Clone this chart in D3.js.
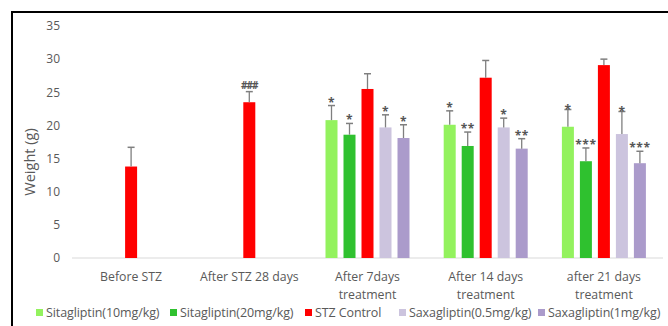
<!DOCTYPE html>
<html>
<head>
<meta charset="utf-8">
<script src="https://cdn.jsdelivr.net/npm/d3@7"></script>
<style>
  html, body { margin: 0; padding: 0; background: #fff; }
  svg { display: block; font-family: "Open Sans", Lato, sans-serif; }
</style>
</head>
<body>
<svg id="chart" width="668" height="326"></svg>
<script>
// Body weight over the study, per group
const categories = ["Before STZ", "After STZ 28 days", "After 7days treatment", "After 14 days treatment", "after 21 days treatment"];
const seriesNames = ["Sitagliptin(10mg/kg)", "Sitagliptin(20mg/kg)", "STZ Control", "Saxagliptin(0.5mg/kg)", "Saxagliptin(1mg/kg)"];
const seriesColors = ["#93f25e", "#2fc12f", "#ff0000", "#ccc4de", "#ab9bcb"];

const sita10  = [null, null, 20.8, 20.1, 19.8];
const sita20  = [null, null, 18.6, 16.9, 14.6];
const stzCtrl = [13.8, 23.5, 25.5, 27.2, 29.1];
const saxa05  = [null, null, 19.7, 19.7, 18.7];
const saxa1   = [null, null, 18.1, 16.5, 14.3];

const sita10Err  = [null, null, 2.2, 2.1, 2.6];
const sita20Err  = [null, null, 1.7, 2.1, 2.0];
const stzCtrlErr = [2.9, 1.6, 2.3, 2.6, 0.9];
const saxa05Err  = [null, null, 1.9, 1.4, 3.4];
const saxa1Err   = [null, null, 2.0, 1.5, 1.8];

const sita10Sig  = ["", "", "*", "*", "*"];
const sita20Sig  = ["", "", "*", "**", "***"];
const stzCtrlSig = ["", "###", "", "", ""];
const saxa05Sig  = ["", "", "*", "*", "*"];
const saxa1Sig   = ["", "", "*", "**", "***"];

const yTicks = [0, 5, 10, 15, 20, 25, 30, 35];

const seriesValues = [sita10, sita20, stzCtrl, saxa05, saxa1];
const seriesErrors = [sita10Err, sita20Err, stzCtrlErr, saxa05Err, saxa1Err];
const seriesSig = [sita10Sig, sita20Sig, stzCtrlSig, saxa05Sig, saxa1Sig];

const svg = d3.select("#chart");

// outer frame
svg.append("rect")
  .attr("x", 12).attr("y", 12)
  .attr("width", 720).attr("height", 400)
  .attr("fill", "none").attr("stroke", "#000").attr("stroke-width", 2);

const x0 = d3.scaleBand().domain(categories).range([72, 663]);
const x1 = d3.scaleBand().domain(seriesNames).range([0, 90]).paddingInner(1 / 3).paddingOuter(1 / 6);
const y = d3.scaleLinear().domain([0, 35]).range([258, 26]);

// y axis labels
const yAxis = svg.append("g")
  .attr("transform", "translate(60,0)")
  .call(d3.axisLeft(y).tickValues(yTicks).tickSize(0).tickPadding(0));
yAxis.select(".domain").remove();
yAxis.selectAll("text")
  .attr("fill", "#595959")
  .style("font-size", "12px")
  .style("font-family", "\"Open Sans\", Lato, sans-serif");

// baseline
svg.append("line")
  .attr("x1", 72).attr("x2", 663)
  .attr("y1", y(0)).attr("y2", y(0))
  .attr("stroke", "#d9d9d9").attr("stroke-width", 1);

// y axis title
svg.append("text")
  .attr("transform", `translate(35,${162}) rotate(-90)`)
  .attr("text-anchor", "middle")
  .attr("fill", "#595959")
  .style("font-size", "14.5px")
  .text("Weight (g)");

// category labels (wrap after the day count)
categories.forEach(c => {
  const m = c.match(/^(.*?)\s+(treatment)$/);
  const lines = m ? [m[1], m[2]] : [c];
  const t = svg.append("text")
    .attr("x", x0(c) + x0.bandwidth() / 2)
    .attr("y", 281)
    .attr("text-anchor", "middle")
    .attr("fill", "#595959")
    .style("font-size", "12.3px");
  lines.forEach((l, i) => {
    t.append("tspan")
      .attr("x", x0(c) + x0.bandwidth() / 2)
      .attr("dy", i === 0 ? 0 : 18)
      .text(l);
  });
});

// bars, error bars, significance marks
seriesNames.forEach((name, si) => {
  const recs = categories.map((c, ci) => ({
    cat: c,
    v: seriesValues[si][ci],
    e: seriesErrors[si][ci],
    s: seriesSig[si][ci]
  })).filter(d => d.v != null);

  const g = svg.append("g");
  const bx = d => x0(d.cat) + x0.bandwidth() / 2 - 45 + x1(name);
  const cx = d => bx(d) + x1.bandwidth() / 2;

  g.selectAll("rect").data(recs).join("rect")
    .attr("x", bx)
    .attr("y", d => y(d.v))
    .attr("width", x1.bandwidth())
    .attr("height", d => y(0) - y(d.v))
    .attr("fill", seriesColors[si]);

  g.selectAll("line.err").data(recs).join("line")
    .attr("class", "err")
    .attr("x1", cx).attr("x2", cx)
    .attr("y1", d => y(d.v)).attr("y2", d => y(d.v + d.e))
    .attr("stroke", "#7f7f7f").attr("stroke-width", 1.3);

  g.selectAll("line.cap").data(recs).join("line")
    .attr("class", "cap")
    .attr("x1", d => cx(d) - 3.5).attr("x2", d => cx(d) + 3.5)
    .attr("y1", d => y(d.v + d.e)).attr("y2", d => y(d.v + d.e))
    .attr("stroke", "#7f7f7f").attr("stroke-width", 1.5);

  g.selectAll("text.sig").data(recs.filter(d => d.s)).join("text")
    .attr("class", "sig")
    .attr("x", cx)
    .attr("y", d => y(d.v + d.e) + (d.s.startsWith("#") ? -3 : (si === 0 || si === 3) && d.cat.startsWith("after 21") ? 4 : 1))
    .attr("text-anchor", "middle")
    .attr("fill", "#555")
    .style("font-size", d => d.s.startsWith("#") ? "10px" : "12px")
    .style("font-weight", "bold")
    .style("letter-spacing", d => d.s.startsWith("*") ? "0.5px" : "-1px")
    .text(d => d.s);
});

// legend
const legendX = [36, 170, 305, 399, 538];
seriesNames.forEach((name, i) => {
  svg.append("rect")
    .attr("x", legendX[i]).attr("y", 309)
    .attr("width", 7).attr("height", 7)
    .attr("fill", seriesColors[i]);
  svg.append("text")
    .attr("x", legendX[i] + 10).attr("y", 317)
    .attr("fill", "#595959")
    .style("font-size", "12.5px")
    .style("letter-spacing", "-0.1px")
    .text(name);
});
</script>
</body>
</html>
